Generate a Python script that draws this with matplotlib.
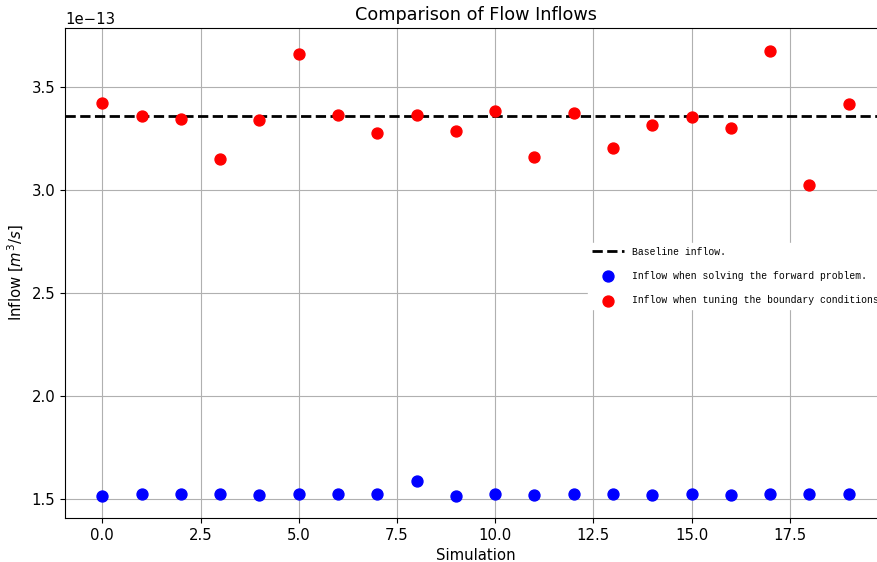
import numpy as np
import matplotlib
matplotlib.use("Agg")
import matplotlib.pyplot as plt

# simulation index and inflows (units of 1e-13 m^3/s)
sims = list(range(20))
forward_inflow = [1.515, 1.524, 1.524, 1.524, 1.522, 1.524, 1.523, 1.525, 1.589, 1.516,
                  1.523, 1.522, 1.523, 1.525, 1.520, 1.523, 1.520, 1.523, 1.524, 1.523]
tuned_inflow = [3.422, 3.359, 3.345, 3.150, 3.340, 3.660, 3.364, 3.277, 3.364, 3.286,
                3.383, 3.160, 3.374, 3.204, 3.316, 3.354, 3.301, 3.675, 3.024, 3.417]
baseline_inflow = 3.358

scale = 1e-13

plt.rcParams["font.size"] = 10.7

fig = plt.figure(figsize=(8.77, 5.62), dpi=100)
ax = fig.add_axes([0.0741, 0.0783, 0.9362, 0.8719])

ax.axhline(baseline_inflow * scale, color="black", linestyle="--", linewidth=2,
           label="Baseline inflow.", zorder=3)
ax.scatter(sims, np.array(forward_inflow) * scale, color="blue", s=62,
           label="Inflow when solving the forward problem.", zorder=3)
ax.scatter(sims, np.array(tuned_inflow) * scale, color="red", s=62,
           label="Inflow when tuning the boundary conditions", zorder=3)

ax.set_ylim(1.408 * scale, 3.786 * scale)
ax.grid(True)
ax.set_title("Comparison of Flow Inflows", fontsize=12.7)
ax.set_xlabel("Simulation")
ax.set_ylabel("Inflow [$m^3/s$]")

leg = ax.legend(loc="upper left", bbox_to_anchor=(588 / 877, 1 - 243 / 562),
                bbox_transform=fig.transFigure, prop={"family": "Liberation Mono", "size": 7},
                handlelength=3.3, labelspacing=1.45, framealpha=1, fancybox=False,
                borderaxespad=0)
leg.get_frame().set_edgecolor("white")

fig.savefig("out.png", dpi=100)
